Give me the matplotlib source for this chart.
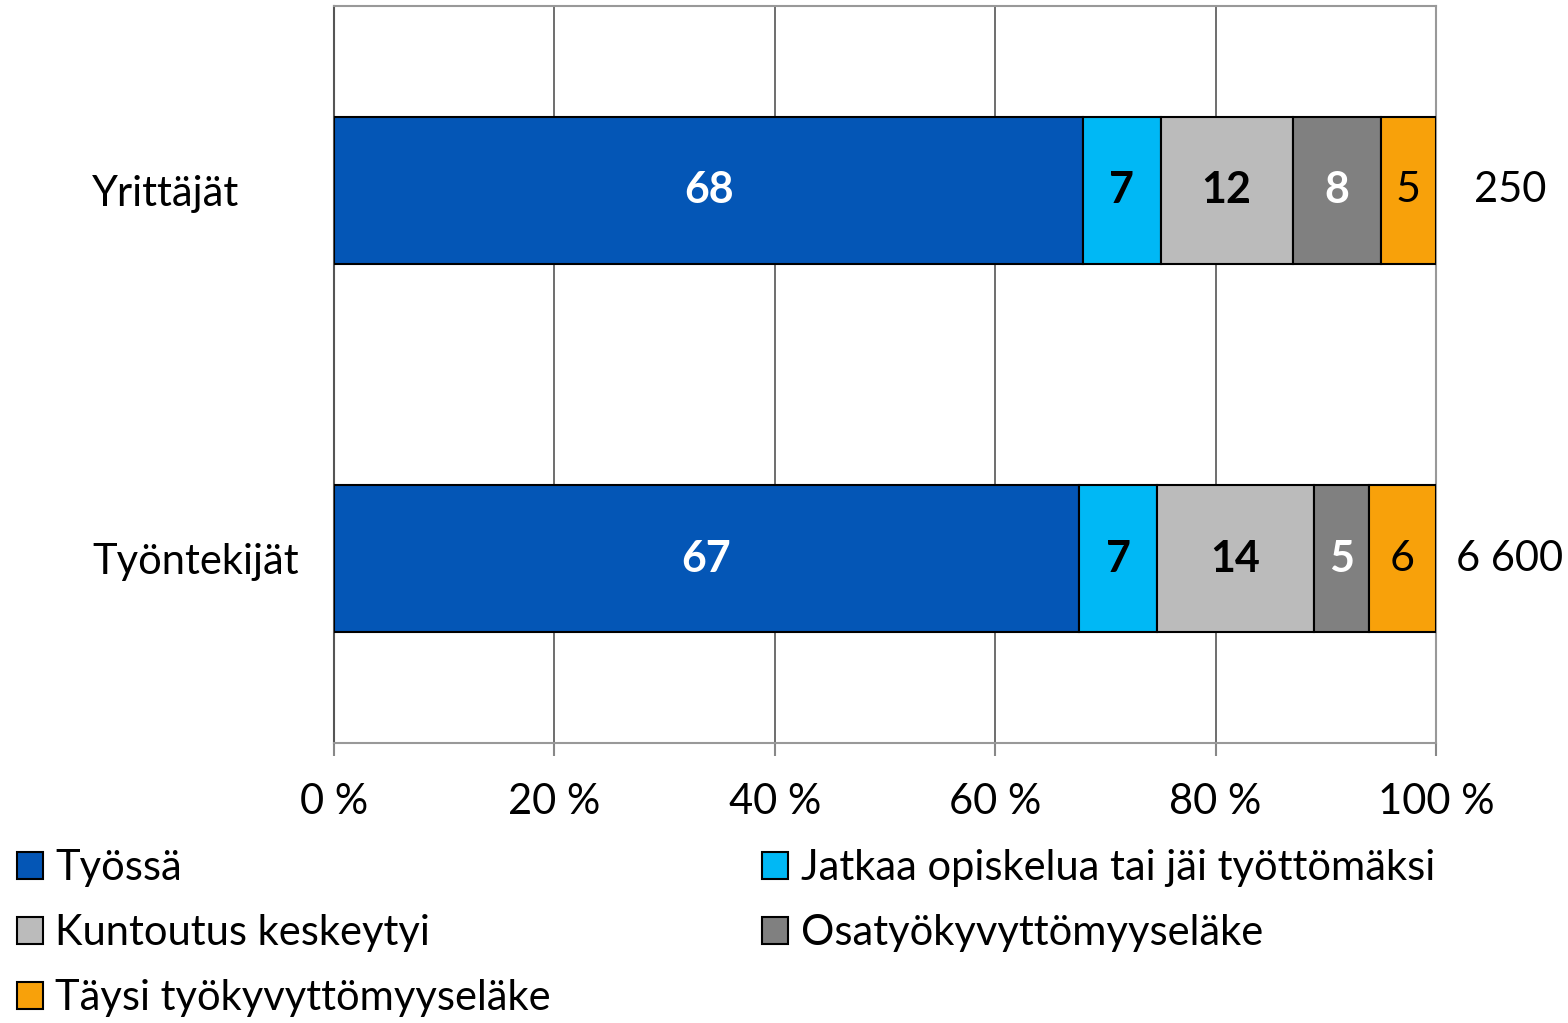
import matplotlib.pyplot as plt
from matplotlib.patches import Patch

plt.rcParams['font.family'] = ['Lato', 'DejaVu Sans']

# Data (bottom row first)
groups = ['Työntekijät', 'Yrittäjät']
series = ['Työssä', 'Jatkaa opiskelua tai jäi työttömäksi', 'Kuntoutus keskeytyi',
          'Osatyökyvyttömyyseläke', 'Täysi työkyvyttömyyseläke']
values = [[67.6, 68.0],
          [7.1, 7.0],
          [14.2, 12.0],
          [5.0, 8.0],
          [6.1, 5.0]]
labels = [['67', '68'],
          ['7', '7'],
          ['14', '12'],
          ['5', '8'],
          ['6', '5']]
totals = ['6 600', '250']

colors = ['#0456b6', '#00b8f5', '#bbbbbb', '#808080', '#f8a10a']
text_colors = ['white', 'black', 'black', 'white', 'black']
text_weights = ['bold', 'bold', 'bold', 'bold', 'normal']
fs = 30

fig = plt.figure(figsize=(15.68, 10.23), dpi=100)
ax = fig.add_axes([334 / 1568, 1 - 743 / 1023, 1102 / 1568, 737 / 1023])

ypos = list(range(len(groups)))
left = [0.0] * len(groups)
for i, name in enumerate(series):
    ax.barh(ypos, values[i], left=left, height=0.4, color=colors[i],
            edgecolor='black', linewidth=1.5, label=name, zorder=3)
    for j in ypos:
        ax.text(left[j] + values[i][j] / 2, j, labels[i][j], ha='center', va='center',
                fontsize=fs + 1, color=text_colors[i], fontweight=text_weights[i], zorder=4)
    left = [l + v for l, v in zip(left, values[i])]

for j in ypos:
    ax.text(1.067, j, totals[j], transform=ax.get_yaxis_transform(),
            ha='center', va='center', fontsize=fs)

ax.set_xlim(0, 100)
ax.set_ylim(-0.5, 1.5)
ax.set_xticks(range(0, 101, 20))
ax.set_xticklabels([f'{t} %' for t in range(0, 101, 20)], fontsize=fs)
ax.tick_params(axis='x', length=9, width=1.5, color='#888888', pad=20)
ax.set_yticks(ypos)
ax.set_yticklabels(groups, fontsize=fs, ha='left')
ax.tick_params(axis='y', length=0, pad=174)
ax.grid(axis='x', color='#555555', linewidth=1.2, zorder=0)
for s in ax.spines.values():
    s.set_color('#999999')
    s.set_linewidth(1.5)
ax.spines['left'].set_color('#555555')

# legend filled row by row, like the original
order = [0, 2, 4, 1, 3]
handles = [Patch(facecolor=colors[k], edgecolor='black', linewidth=1.5) for k in order]
fig.legend(handles, [series[k] for k in order], loc='upper left',
           bbox_to_anchor=(0.0, 0.186), ncol=2, frameon=False, fontsize=fs,
           handlelength=0.62, handleheight=0.62, handletextpad=0.3,
           columnspacing=5.08, labelspacing=0.64, borderaxespad=0)

fig.savefig('out.png', dpi=100)
